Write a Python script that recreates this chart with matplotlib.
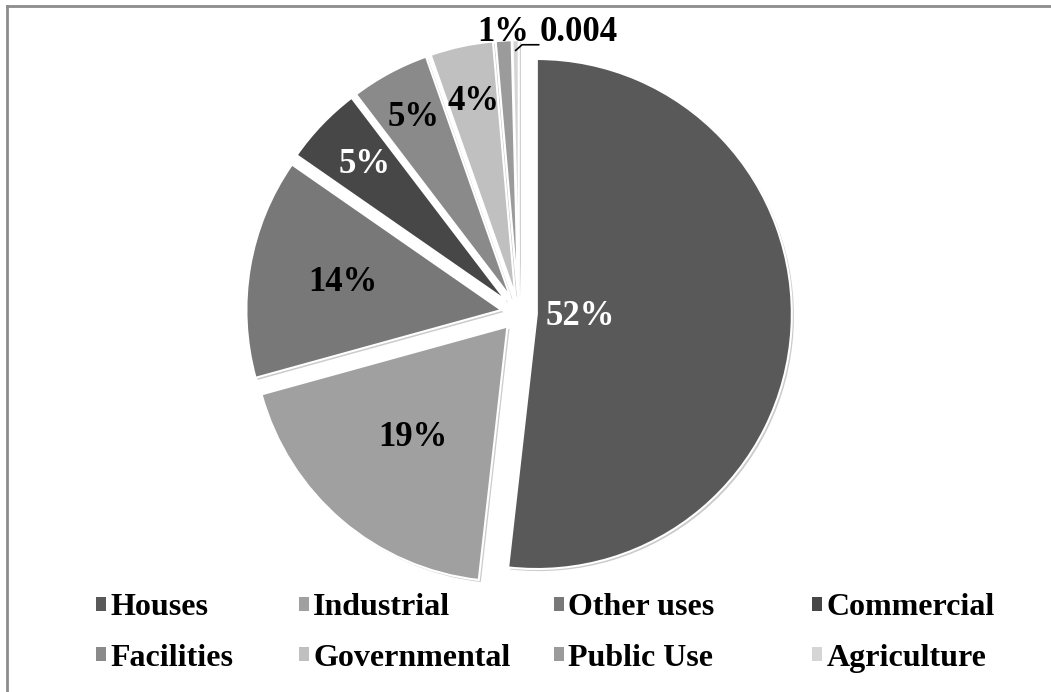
import numpy as np
import matplotlib
matplotlib.use("Agg")
import matplotlib.pyplot as plt
import matplotlib.patheffects as pe
from matplotlib.patches import Rectangle
from matplotlib.lines import Line2D

categories = ["Houses", "Industrial", "Other uses", "Commercial",
              "Facilities", "Governmental", "Public Use", "Agriculture"]
values = [52, 19, 14, 5, 5, 4, 1, 0.4]
value_labels = ["52%", "19%", "14%", "5%", "5%", "4%", "1%", "0.004"]

colors = ["#595959", "#a0a0a0", "#787878", "#474747",
          "#8a8a8a", "#c0c0c0", "#9b9b9b", "#d5d5d5"]
label_colors = ["white", "black", "black", "white",
                "black", "black", "black", "black"]
label_dist = [0.17, 0.57, 0.63, 0.77, 0.80, 0.78, 1.03, None]

plt.rcParams['font.family'] = ['Liberation Serif', 'DejaVu Serif']
plt.rcParams['font.weight'] = 'bold'

fig = plt.figure(figsize=(10.51, 6.92), dpi=100)
ax = fig.add_axes([213/1051, 73/692, 612/1051, 612/692])

wedges, _ = ax.pie(values, colors=colors, startangle=90, counterclock=False,
                   explode=[0.07]*len(values), radius=1.0,
                   wedgeprops=dict(edgecolor="white", linewidth=1.5))
for w in wedges:
    w.set_path_effects([pe.SimplePatchShadow(offset=(1.5, -1.5), shadow_rgbFace="#8c8c8c", alpha=0.45),
                        pe.Normal()])
ax.set_xlim(-1.2, 1.2)
ax.set_ylim(-1.2, 1.2)
ax.set_aspect('equal')
ax.axis('off')

for i, w in enumerate(wedges):
    mid = np.deg2rad((w.theta1 + w.theta2) / 2)
    cx, cy = w.center
    if label_dist[i] is not None:
        d = label_dist[i]
        ax.text(cx + d*np.cos(mid), cy + d*np.sin(mid), value_labels[i],
                ha='center', va='center', fontsize=25, fontweight='bold',
                color=label_colors[i])
    else:
        p0 = (cx + 0.96*np.cos(mid), cy + 0.96*np.sin(mid))
        p1 = (p0[0] + 0.025, p0[1] + 0.022)
        p2 = (p1[0] + 0.065, p1[1])
        ax.plot([p0[0], p1[0], p2[0]], [p0[1], p1[1], p2[1]], color='black',
                lw=1.2, clip_on=False)
        ax.text(p2[0] + 0.005, p2[1] + 0.05, value_labels[i], ha='left', va='center',
                fontsize=25, fontweight='bold', color=label_colors[i])

# legend: 4 columns, each placed on its own (row-major order as in the reference)
col_x = [96, 299, 554, 812]   # left edge of each legend column, pixels
for c in range(4):
    idx = [c, c + 4]
    hs = [Rectangle((0, 0), 1, 1, facecolor=colors[k], edgecolor='none') for k in idx]
    leg = fig.legend(hs, [categories[k] for k in idx], ncol=1, loc='center left',
                     bbox_to_anchor=(col_x[c]/1051, 1 - 633/692), frameon=False,
                     prop=dict(family='Liberation Serif', weight='bold', size=23),
                     handlelength=0.3, handleheight=0.3, handletextpad=0.15,
                     labelspacing=0.68, borderpad=0, borderaxespad=0)

fig.add_artist(Line2D([6.5/1051, 6.5/1051], [0, 1 - 5.5/692], transform=fig.transFigure,
                      color='#8c8c8c', lw=2))
fig.add_artist(Line2D([6.5/1051, 1], [1 - 5.5/692, 1 - 5.5/692], transform=fig.transFigure,
                      color='#8c8c8c', lw=2))

fig.savefig("out.png", dpi=100, facecolor='white')
